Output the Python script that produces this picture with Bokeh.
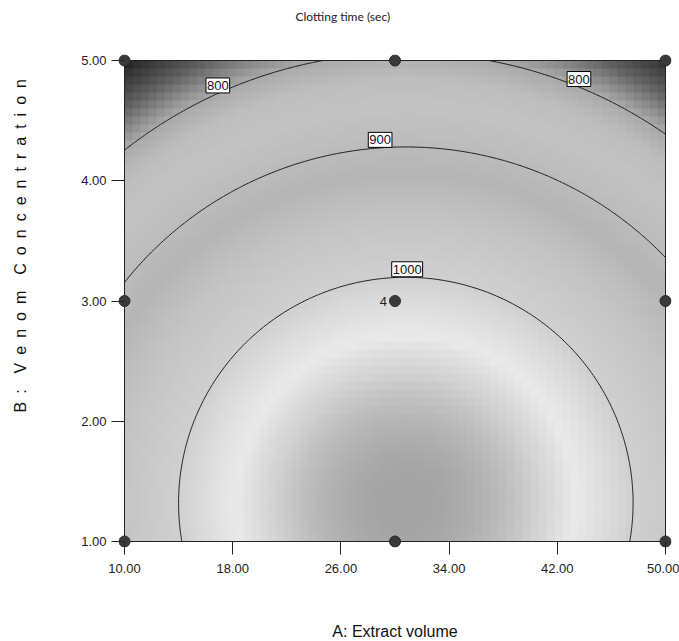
import numpy as np
from bokeh.plotting import figure
from bokeh.models import Label, Title, FixedTicker, NumeralTickFormatter
from bokeh.embed import file_html
from bokeh.resources import INLINE
from bokeh.core.properties import value

# ---------------- data ----------------
title_text = "Clotting time (sec)"
x_label = "A: Extract volume"
y_label = "\u2002".join(list("B:")) + "\u2002\u2002" + "\u2002".join(list("Venom")) + "\u2002\u2002" + "\u2002".join(list("Concentration"))
x_ticks = [10, 18, 26, 34, 42, 50]
y_ticks = [1, 2, 3, 4, 5]

design_A = [10, 30, 50, 10, 30, 50, 10, 30, 50]
design_B = [1, 1, 1, 3, 3, 3, 5, 5, 5]
center_label = ["4"]
center_A = [30]
center_B = [3]

# quadratic response-surface model, fitted to the drawn contour positions
model_peak = 1067.2
model_A0 = 30.8
model_B0 = 1.32
model_bB = 19.07
model_aA = 0.238

contour_levels = [800, 900, 1000]
label_levels = [800, 800, 900, 1000]
label_A = [16.9, 43.6, 28.9, 30.9]

# grey shading: response value -> grey level
shade_f = [704, 720, 740, 760, 780, 800, 830, 860, 890, 925, 960, 1000, 1030, 1045, 1057, 1067]
shade_g = [25, 48, 72, 98, 135, 170, 190, 195, 190, 182, 196, 208, 234, 210, 184, 163]


def response(A, B):
    return model_peak - model_bB * (B - model_B0) ** 2 - model_aA * (A - model_A0) ** 2


TICKFONT = "'Liberation Sans', Arial, sans-serif"

x0, x1 = x_ticks[0], x_ticks[-1]
y0, y1 = y_ticks[0], y_ticks[-1]
PXX = 541 / (x1 - x0)
PXY = 481 / (y1 - y0)
PAD = 6

p = figure(frame_width=553, frame_height=493,
           x_range=(x0 - PAD / PXX, x1 + PAD / PXX),
           y_range=(y0 - PAD / PXY, y1 + PAD / PXY),
           output_backend="svg", toolbar_location=None,
           min_border_left=118, min_border_right=8,
           min_border_top=54, min_border_bottom=94)
p.outline_line_color = None
p.grid.visible = False
p.background_fill_color = "white"
p.border_fill_color = "white"

# real title (outermost) and a spacer title between it and the frame
p.title.text = title_text
p.title.align = "left"
p.title.offset = 177
p.title.vertical_align = "middle"
p.title.standoff = 14
p.title.text_font = "Lato"
p.title.text_font_style = "normal"
p.title.text_font_size = "12px"
p.title.text_color = "#222222"
p.add_layout(Title(text=" ", standoff=10, text_font_size="10px"), "above")

# shaded surface
nx, ny = 68, 60
xe = np.linspace(x0, x1, nx + 1)
ye = np.linspace(y0, y1, ny + 1)
XC, YC = np.meshgrid(0.5 * (xe[1:] + xe[:-1]), 0.5 * (ye[1:] + ye[:-1]))
Z = response(XC, YC)
g = np.clip(np.interp(Z, shade_f, shade_g), 0, 255).astype(np.uint32)
img = (np.uint32(255) << np.uint32(24)) | (g << np.uint32(16)) | (g << np.uint32(8)) | g
p.image_rgba(image=[img], x=x0, y=y0, dw=x1 - x0, dh=y1 - y0)

# contour lines
xf = np.linspace(x0, x1, 241)
yf = np.linspace(y0, y1, 241)
XF, YF = np.meshgrid(xf, yf)
ZF = response(XF, YF)
p.contour(xf, yf, ZF, levels=contour_levels, line_color="#1e1e1e", line_width=1)

# plot border
p.quad(left=[x0], right=[x1], bottom=[y0], top=[y1], fill_color=None,
       line_color="#222222", line_width=1)

# design points
p.scatter(design_A, design_B, size=11, fill_color="#3a3a3a", line_color="#2a2a2a")
p.text(x=center_A, y=center_B, text=center_label, x_offset=-8,
       text_align="right", text_baseline="middle",
       text_font=value(TICKFONT), text_font_size="13px", text_color="#222222")

# contour labels
Bs = np.linspace(y0, y1, 4001)
for lev, a in zip(label_levels, label_A):
    vals = response(a, Bs)
    i = int(np.argmax(vals))
    b = float(np.interp(lev, vals[i:][::-1], Bs[i:][::-1]))
    p.add_layout(Label(x=a, y=b, text=str(lev), y_offset=8,
                       text_align="center", text_baseline="middle",
                       background_fill_color="white", border_line_color="black",
                       padding=(1, 3), text_font=TICKFONT, text_font_size="13px",
                       text_color="#111111"))

# axes
for ax, ticks in ((p.xaxis, x_ticks), (p.yaxis, y_ticks)):
    ax.ticker = FixedTicker(ticks=ticks)
    ax.formatter = NumeralTickFormatter(format="0.00")
    ax.major_tick_in = PAD
    ax.major_tick_out = 7
    ax.minor_tick_in = 0
    ax.minor_tick_out = 0
    ax.axis_line_color = None
    ax.major_tick_line_color = "#222222"
    ax.major_label_text_font = TICKFONT
    ax.major_label_text_font_size = "13px"
    ax.major_label_text_color = "#222222"

p.xaxis.major_label_standoff = 9
p.yaxis.major_label_standoff = 5
p.xaxis.axis_label = x_label
p.xaxis.axis_label_standoff = 47
p.xaxis.axis_label_text_font = "Liberation Sans"
p.xaxis.axis_label_text_font_style = "normal"
p.xaxis.axis_label_text_font_size = "16px"
p.xaxis.axis_label_text_color = "#111111"

# y label: spacer title next to the axis, then the real label further out
p.add_layout(Title(text=" ", standoff=21, text_font_size="16px"), "left")
p.add_layout(Title(text=y_label, align="left", offset=135, vertical_align="middle",
                   standoff=18, text_font="Liberation Sans", text_font_style="normal",
                   text_font_size="16px", text_color="#111111"), "left")

open("out.html", "w").write(file_html(p, INLINE))
